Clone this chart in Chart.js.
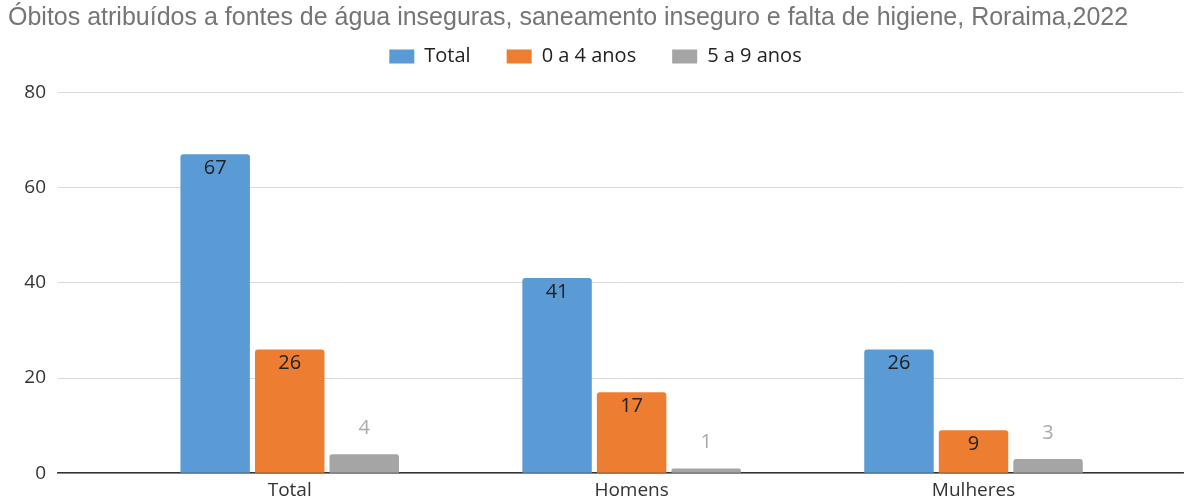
<!DOCTYPE html>
<html>
<head>
<meta charset="utf-8">
<script src="https://cdn.jsdelivr.net/npm/chart.js@4/dist/chart.umd.min.js"></script>
<style>
  html, body { margin: 0; padding: 0; background: #fff; }
  #wrap { width: 1197px; height: 501px; }
</style>
</head>
<body>
<div id="wrap"><canvas id="chart"></canvas></div>
<script>
// Data
const categories = ["Total", "Homens", "Mulheres"];
const seriesNames = ["Total", "0 a 4 anos", "5 a 9 anos"];
const totalValues = [67, 41, 26];
const age0to4Values = [26, 17, 9];
const age5to9Values = [4, 1, 3];
const yTicks = [0, 20, 40, 60, 80];

const colors = ["#5B9BD5", "#ED7D31", "#A5A5A5"];

// x is a linear scale so the empty margins left/right of the groups match the picture
const toPoints = (vals) => vals.map((v, i) => ({ x: i + 1, y: v }));

// value labels: inside the bar top for blue/orange, above the bar for grey
const valueLabels = {
  id: "valueLabels",
  afterDatasetsDraw(chart) {
    const ctx = chart.ctx;
    ctx.save();
    ctx.font = "20px 'Open Sans'";
    ctx.textAlign = "center";
    ctx.textBaseline = "middle";
    chart.data.datasets.forEach((ds, di) => {
      const meta = chart.getDatasetMeta(di);
      meta.data.forEach((bar, i) => {
        const v = ds.data[i].y;
        if (di === 2) {
          ctx.fillStyle = "#AAAAAA";
          ctx.fillText(v, bar.x, bar.y - 26);
        } else {
          ctx.fillStyle = "#222222";
          ctx.fillText(v, bar.x, bar.y + 14);
        }
      });
    });
    ctx.restore();
  },
};

// extra room between legend and plot
const legendSpacer = {
  id: "legendSpacer",
  beforeInit(chart) {
    const origFit = chart.legend.fit;
    chart.legend.fit = function () {
      origFit.bind(chart.legend)();
      this.height += 16;
    };
  },
};

const ctx = document.getElementById("chart").getContext("2d");
new Chart(ctx, {
  type: "bar",
  data: {
    datasets: [
      { label: seriesNames[0], data: toPoints(totalValues), backgroundColor: colors[0] },
      { label: seriesNames[1], data: toPoints(age0to4Values), backgroundColor: colors[1] },
      { label: seriesNames[2], data: toPoints(age5to9Values), backgroundColor: colors[2] },
    ],
  },
  options: {
    responsive: true,
    maintainAspectRatio: false,
    animation: false,
    layout: { padding: { left: 8, right: 14, top: 4, bottom: -7 } },
    datasets: {
      bar: {
        categoryPercentage: 0.654,
        barPercentage: 0.932,
        borderRadius: { topLeft: 3, topRight: 3 },
        borderSkipped: "bottom",
      },
    },
    plugins: {
      title: {
        display: true,
        text: "Óbitos atribuídos a fontes de água inseguras, saneamento inseguro e falta de higiene, Roraima,2022",
        align: "start",
        color: "#757575",
        font: { family: "'Liberation Sans'", size: 25, weight: "normal", lineHeight: 1.1 },
        padding: { top: 0, bottom: -21 },
      },
      legend: {
        position: "top",
        labels: {
          boxWidth: 25,
          boxHeight: 14,
          padding: 36,
          color: "#222222",
          font: { family: "'Open Sans'", size: 20 },
        },
      },
      tooltip: { enabled: false },
    },
    scales: {
      x: {
        type: "linear",
        offset: false,
        min: 0.3223,
        max: 3.6127,
        afterBuildTicks(scale) {
          scale.ticks = categories.map((c, i) => ({ value: i + 1 }));
        },
        grid: { display: false, drawTicks: false },
        border: { display: true, color: "#333333", width: 1.5 },
        ticks: {
          color: "#333333",
          padding: 6,
          font: { family: "'Open Sans'", size: 19 },
          callback: (v) => categories[v - 1],
        },
      },
      y: {
        min: 0,
        max: 80,
        afterBuildTicks(scale) {
          scale.ticks = yTicks.map((v) => ({ value: v }));
        },
        afterFit(scale) {
          scale.width = 50;
        },
        grid: { color: "#D9D9D9", drawTicks: false },
        border: { display: false },
        ticks: {
          color: "#333333",
          padding: 12,
          font: { family: "'Open Sans'", size: 19 },
        },
      },
    },
  },
  plugins: [valueLabels, legendSpacer],
});
</script>
</body>
</html>
